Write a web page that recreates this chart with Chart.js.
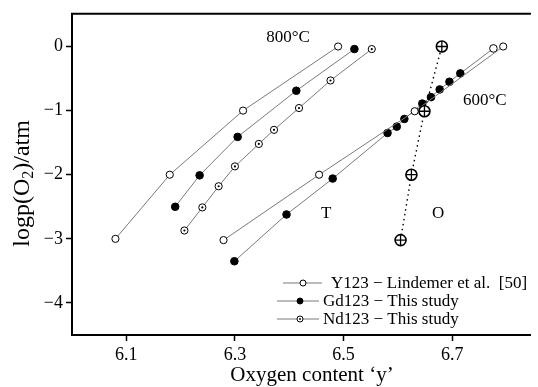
<!DOCTYPE html>
<html>
<head>
<meta charset="utf-8">
<script src="https://cdn.jsdelivr.net/npm/chart.js@4"></script>
<style>
  html, body { margin: 0; padding: 0; background: #fff; }
  #wrap { width: 538px; height: 387px; }
</style>
</head>
<body>
<div id="wrap"><canvas id="chart" width="538" height="387"></canvas></div>
<script>
// Data (x = oxygen content, y = log p(O2))
let y123At800X = [6.08, 6.18, 6.315, 6.49];
let y123At800Y = [-3.0, -2.0, -1.0, 0.0];
let gdAt800X = [6.19, 6.235, 6.305, 6.413, 6.52];
let gdAt800Y = [-2.5, -2.01, -1.41, -0.69, -0.04];
let ndAt800X = [6.207, 6.24, 6.27, 6.30, 6.344, 6.372, 6.418, 6.476, 6.552];
let ndAt800Y = [-2.87, -2.51, -2.18, -1.87, -1.52, -1.30, -0.96, -0.53, -0.04];
let y123At600X = [6.279, 6.455, 6.631, 6.794];
let y123At600Y = [-3.02, -2.0, -1.01, 0.0];
let gdAt600X = [6.299, 6.395, 6.48, 6.581, 6.598, 6.612, 6.645, 6.661, 6.677, 6.695, 6.715, 6.776];
let gdAt600Y = [-3.35, -2.62, -2.06, -1.35, -1.25, -1.13, -0.89, -0.79, -0.67, -0.55, -0.42, -0.03];
let otX = [6.605, 6.625, 6.649, 6.681];
let otY = [-3.02, -2.0, -1.01, 0.0];

let xTicks = [6.1, 6.3, 6.5, 6.7];
let yTicks = [-4, -3, -2, -1, 0];
let legendLabels = ["Y123 \u2212 Lindemer et al.  [50]", "Gd123 \u2212 This study", "Nd123 \u2212 This study"];
let notes = [
    { text: "800\u00b0C", x: 6.398, y: 0.14 },
    { text: "600\u00b0C", x: 6.76, y: -0.85 },
    { text: "T", x: 6.468, y: -2.6 },
    { text: "O", x: 6.674, y: -2.6 }
];

const SERIF = "'Liberation Serif', 'DejaVu Serif', serif";
const LINE = "#7a7a7a";

function pts(xs, ys) {
    return xs.map((x, i) => ({ x: x, y: ys[i] }));
}

function series(data, style) {
    return Object.assign({
        data: data,
        showLine: true,
        order: 2,
        borderColor: LINE,
        borderWidth: 1,
        pointStyle: "circle",
        pointBorderColor: "#000",
        pointBorderWidth: 1,
        pointBackgroundColor: "#fff",
        pointRadius: 3.6,
        pointHoverRadius: 3.6
    }, style);
}

// marks laid over another series' points (no line); lower order = drawn on top
function overlay(data, style) {
    return Object.assign({
        data: data,
        showLine: false,
        order: 0,
        pointBorderColor: "#000",
        pointBackgroundColor: "#000"
    }, style);
}

let filled = { pointBackgroundColor: "#000", pointRadius: 3.8, pointHoverRadius: 3.8 };
let gd600Fill = gdAt600X.map((x, i) => i === gdAt600X.length - 1 ? "#fff" : "#000");

let datasets = [
    series(pts(y123At800X, y123At800Y), {}),
    series(pts(gdAt800X, gdAt800Y), filled),
    series(pts(ndAt800X, ndAt800Y), {}),
    overlay(pts(ndAt800X, ndAt800Y), { pointStyle: "circle", pointRadius: 1.1, pointHoverRadius: 1.1, pointBorderWidth: 0 }),
    series(pts(y123At600X, y123At600Y), {}),
    series(pts(gdAt600X, gdAt600Y), Object.assign({}, filled, { pointBackgroundColor: gd600Fill })),
    series(pts(otX, otY), { order: 1, borderColor: "#000", borderWidth: 1.4, borderDash: [1.5, 3.5],
        pointRadius: 5.5, pointHoverRadius: 5.5, pointBorderWidth: 1.6 }),
    overlay(pts(otX, otY), { pointStyle: "cross", pointRadius: 5.5, pointHoverRadius: 5.5, pointBorderWidth: 1.3 })
];

// text, titles, top frame and legend drawn on the canvas
let extras = {
    id: "extras",
    afterDraw(chart) {
        let ctx = chart.ctx;
        let a = chart.chartArea;
        let xs = chart.scales.x, ys = chart.scales.y;
        ctx.save();

        // top frame line
        ctx.strokeStyle = "#000";
        ctx.lineWidth = 2;
        ctx.beginPath();
        ctx.moveTo(a.left - 1, a.top);
        ctx.lineTo(a.right, a.top);
        ctx.stroke();

        // labels inside the plot
        ctx.fillStyle = "#000";
        ctx.font = "17px " + SERIF;
        ctx.textAlign = "center";
        ctx.textBaseline = "middle";
        notes.forEach(n => ctx.fillText(n.text, xs.getPixelForValue(n.x), ys.getPixelForValue(n.y)));

        // x title
        ctx.font = "21px " + SERIF;
        ctx.fillText("Oxygen content \u2018y\u2019", 312, 375);

        // y title with subscript
        ctx.save();
        ctx.translate(23, (a.top + a.bottom) / 2 + 9);
        ctx.rotate(-Math.PI / 2);
        ctx.textAlign = "left";
        ctx.textBaseline = "middle";
        let big = "24px " + SERIF, small = "16px " + SERIF;
        let parts = [["logp(O", big, 0], ["2", small, 6], [")/atm", big, 0]];
        let total = 0;
        parts.forEach(p => { ctx.font = p[1]; total += ctx.measureText(p[0]).width; });
        let cx = -total / 2;
        parts.forEach(p => {
            ctx.font = p[1];
            ctx.fillText(p[0], cx, p[2]);
            cx += ctx.measureText(p[0]).width;
        });
        ctx.restore();

        // legend
        let rows = [
            { y: 283, x0: 283, x1: 322, mx: 303, tx: 331, kind: "open" },
            { y: 301, x0: 277, x1: 319, mx: 300, tx: 323, kind: "filled" },
            { y: 319, x0: 277, x1: 319, mx: 300, tx: 323, kind: "dot" }
        ];
        ctx.font = "17px " + SERIF;
        ctx.textAlign = "left";
        ctx.textBaseline = "middle";
        rows.forEach((r, i) => {
            ctx.strokeStyle = LINE;
            ctx.lineWidth = 1;
            ctx.beginPath();
            ctx.moveTo(r.x0, r.y); ctx.lineTo(r.x1, r.y);
            ctx.stroke();
            ctx.beginPath();
            ctx.arc(r.mx, r.y, 3, 0, Math.PI * 2);
            ctx.fillStyle = r.kind === "filled" ? "#000" : "#fff";
            ctx.fill();
            ctx.strokeStyle = "#000";
            ctx.stroke();
            if (r.kind === "dot") {
                ctx.beginPath();
                ctx.arc(r.mx, r.y, 0.9, 0, Math.PI * 2);
                ctx.fillStyle = "#000";
                ctx.fill();
            }
            ctx.fillStyle = "#000";
            ctx.fillText(legendLabels[i], r.tx, r.y + 1);
        });
        ctx.restore();
    }
};

new Chart(document.getElementById("chart").getContext("2d"), {
    type: "scatter",
    data: { datasets: datasets },
    options: {
        responsive: false,
        animation: false,
        layout: { padding: { top: 11, right: 0, left: 0, bottom: 0 } },
        plugins: { legend: { display: false }, tooltip: { enabled: false } },
        scales: {
            x: {
                type: "linear",
                min: 6.0,
                max: 6.845,
                afterFit: s => { s.height = 52; },
                afterBuildTicks: s => { s.ticks = xTicks.map(v => ({ value: v })); },
                border: { display: true, color: "#000", width: 2 },
                grid: { drawOnChartArea: false, drawTicks: true, tickLength: 6, color: "#000", tickWidth: 1.5 },
                ticks: {
                    color: "#000",
                    padding: 3,
                    maxRotation: 0,
                    font: { family: SERIF, size: 18 },
                    callback: v => v.toFixed(1)
                }
            },
            y: {
                type: "linear",
                min: -4.5,
                max: 0.51,
                afterFit: s => { s.width = 72; },
                afterBuildTicks: s => { s.ticks = yTicks.map(v => ({ value: v })); },
                border: { display: true, color: "#000", width: 2 },
                grid: { drawOnChartArea: false, drawTicks: true, tickLength: 6, color: "#000", tickWidth: 1.5 },
                ticks: {
                    color: "#000",
                    padding: 3,
                    font: { family: SERIF, size: 18 },
                    callback: v => v < 0 ? "\u2212" + Math.abs(v) : String(v)
                }
            }
        }
    },
    plugins: [extras]
});
</script>
</body>
</html>
